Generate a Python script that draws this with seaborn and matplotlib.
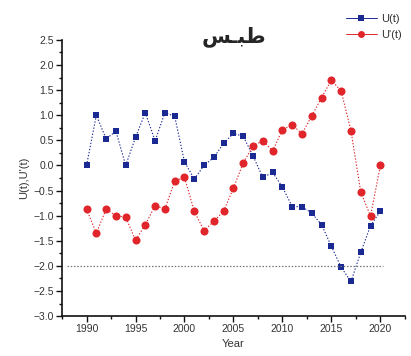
import numpy as np
import pandas as pd
import seaborn as sns
import matplotlib
matplotlib.use("Agg")
import matplotlib.pyplot as plt
from matplotlib.lines import Line2D
from matplotlib.ticker import MultipleLocator

# Mann-Kendall sequential statistics for Tabas
years = list(range(1990, 2021))
u_forward = [0.00, 1.00, 0.53, 0.68, 0.00, 0.56, 1.05, 0.49, 1.05, 0.98,
             0.07, -0.27, 0.00, 0.16, 0.44, 0.64, 0.58, 0.19, -0.24, -0.14,
             -0.43, -0.82, -0.82, -0.95, -1.18, -1.61, -2.03, -2.31, -1.73, -1.20,
             -0.91]
u_backward = [-0.87, -1.35, -0.87, -1.00, -1.03, -1.49, -1.18, -0.80, -0.87, -0.31,
              -0.24, -0.91, -1.30, -1.11, -0.91, -0.45, 0.05, 0.39, 0.49, 0.29,
              0.71, 0.81, 0.63, 0.99, 1.35, 1.70, 1.48, 0.69, -0.53, -1.01,
              0.00]
critical_level = -2.0
critical_span = [1988.0, 2020.3]
series_names = ["U(t)", "U'(t)"]
# Tabas, written in presentation forms (visual order) with a kashida
title_text = "\uFEB2\u0640\uFE92\uFEC3"

sns.set_theme(style="white")
plt.rcParams["font.family"] = ["Liberation Sans", "DejaVu Sans"]

blue = "#1b2a93"
red = "#e0262b"

fig = plt.figure(figsize=(4.11, 3.56), dpi=100)
ax = fig.add_axes([0.151, 0.112, 0.834, 0.776])

df_u = pd.DataFrame({"Year": years, "value": u_forward})
df_up = pd.DataFrame({"Year": years, "value": u_backward})

sns.lineplot(data=df_u, x="Year", y="value", ax=ax, color=blue,
             linestyle=(0, (1.2, 1.6)), linewidth=0.8, marker="s",
             markersize=5, markeredgewidth=0, markerfacecolor=blue)
sns.lineplot(data=df_up, x="Year", y="value", ax=ax, color=red,
             linestyle=(0, (1.2, 1.6)), linewidth=0.8, marker="o",
             markersize=5.8, markeredgewidth=0, markerfacecolor=red)

ax.hlines(critical_level, critical_span[0], critical_span[1], colors="#777777",
          linestyles=(0, (1.2, 1.4)), linewidth=0.9)

ax.set_xlim(1987.5, 2022.5)
ax.set_ylim(-3.0, 2.5)
ax.xaxis.set_major_locator(MultipleLocator(5))
ax.xaxis.set_minor_locator(MultipleLocator(2.5))
ax.yaxis.set_major_locator(MultipleLocator(0.5))
ax.yaxis.set_minor_locator(MultipleLocator(0.25))
ax.yaxis.set_major_formatter(plt.FuncFormatter(lambda v, p: f"{v:.1f}".replace("-", "\u2212")))

for side in ["top", "right"]:
    ax.spines[side].set_visible(False)
for side in ["left", "bottom"]:
    ax.spines[side].set_color("#111111")
    ax.spines[side].set_linewidth(1.2)

ax.tick_params(axis="both", which="major", direction="out", length=4, width=1,
               color="#111111", labelsize=7.5, labelcolor="#333333", pad=2,
               bottom=True, left=True)
ax.tick_params(axis="both", which="minor", direction="out", length=2.5, width=1,
               color="#111111", bottom=True, left=True)

ax.set_xlabel("Year", fontsize=8, color="#333333", labelpad=3)
ax.set_ylabel("U(t),U'(t)", fontsize=8, color="#333333", labelpad=3)
ax.set_title(title_text, fontsize=15, fontweight="bold", family=["DejaVu Sans"],
             y=1.0, pad=-2)

handles = [
    Line2D([], [], color=blue, linewidth=0.7, marker="s", markersize=4.5,
           markeredgewidth=0),
    Line2D([], [], color=red, linewidth=0.7, marker="o", markersize=5,
           markeredgewidth=0),
]
fig.legend(handles, series_names, loc="upper right", bbox_to_anchor=(1.0, 0.985),
           frameon=False, fontsize=8, handlelength=2.8, handletextpad=0.4,
           labelspacing=0.5, borderaxespad=0.4, labelcolor="#333333")

fig.savefig("out.png", dpi=100)
